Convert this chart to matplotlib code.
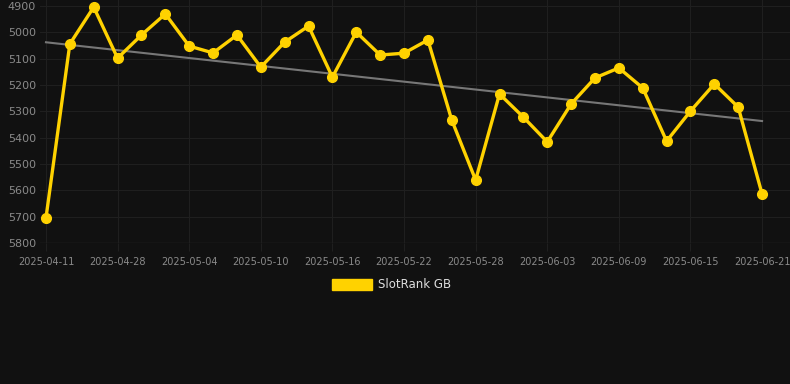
import matplotlib.pyplot as plt
import matplotlib.patches as mpatches
import numpy as np

# categorical dates (every 3rd one is labelled)
tick_labels = ['2025-04-11', '2025-04-28', '2025-05-04', '2025-05-10', '2025-05-16', '2025-05-22',
               '2025-05-28', '2025-06-03', '2025-06-09', '2025-06-15', '2025-06-21']
ranks = [5705, 5044, 4904, 5098, 5010, 4930, 5052, 5078, 5010, 5132,
         5037, 4976, 5170, 4999, 5086, 5079, 5029, 5333, 5561, 5234,
         5322, 5416, 5272, 5173, 5135, 5211, 5413, 5299, 5196, 5284, 5614]
y_ticks = [4900, 5000, 5100, 5200, 5300, 5400, 5500, 5600, 5700, 5800]

bg = '#111111'
gold = '#FFD200'
grid_c = '#1f1f1f'
txt = '#8a8a8a'

x = np.arange(len(ranks))

fig = plt.figure(figsize=(7.9, 3.84), dpi=100, facecolor=bg)
ax = fig.add_axes([40/790, 1 - 243/384, 750/790, 243/384])
ax.set_facecolor(bg)

# trend line (least squares)
k, b = np.polyfit(x, ranks, 1)
ax.plot(x, k*x + b, color='#777777', lw=1.5, zorder=2)

ax.plot(x, ranks, color=gold, lw=2.4, marker='o', ms=7, zorder=3, clip_on=False)

ax.set_xlim(-0.25, 31.17)
ax.set_ylim(5800, 4877)
ax.set_yticks(y_ticks)
ax.set_xticks(x[::3])
ax.set_xticklabels(tick_labels)

ax.grid(True, color=grid_c, lw=0.8)
for s in ax.spines.values():
    s.set_visible(False)
ax.axhline(5800, color='#2a2a2a', lw=1, zorder=1)
ax.tick_params(axis='x', colors=grid_c, length=6, labelcolor=txt, labelsize=7, pad=4)
ax.tick_params(axis='y', length=0, labelcolor=txt, labelsize=8, pad=3)

# legend
fig.patches.append(mpatches.Rectangle((332/790, 1 - 290/384), 40/790, 11/384,
                                      transform=fig.transFigure, color=gold))
fig.text(378/790, 1 - 285/384, 'SlotRank GB', color='#dddddd', fontsize=8.5, va='center')

fig.savefig('out.png', dpi=100, facecolor=bg)
